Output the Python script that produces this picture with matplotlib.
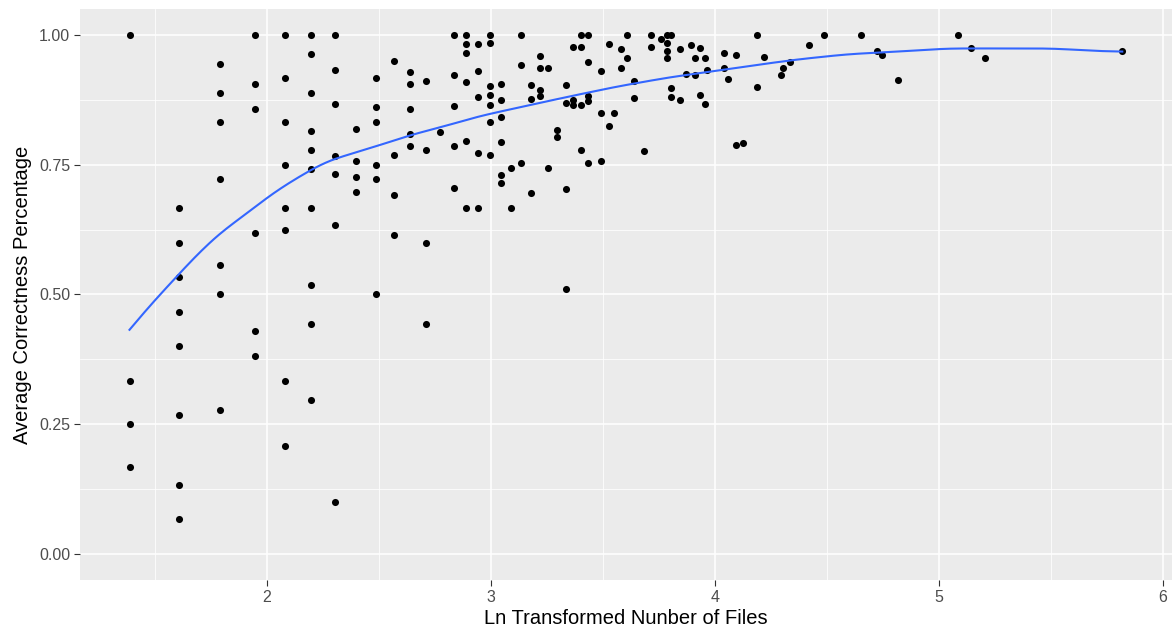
import matplotlib
matplotlib.use("Agg")
import matplotlib.pyplot as plt
import numpy as np

# ln(number of files) and average correctness
ln_files = (
    [1.386] * 4 + [1.609] * 8 + [1.792] * 7 + [1.946] * 6 + [2.079] * 8
    + [2.197] * 10 + [2.303] * 7 + [2.398] * 4 + [2.485] * 6 + [2.565] * 4
    + [2.639] * 5 + [2.708] * 4 + [2.773] * 1 + [2.833] * 5 + [2.890] * 6
    + [2.944] * 5 + [2.996] * 7 + [3.045] * 6 + [3.091] * 2 + [3.135] * 3
    + [3.178] * 3 + [3.219] * 4 + [3.254] * 2 + [3.293] * 2 + [3.333] * 4
    + [3.366] * 3 + [3.400] * 4 + [3.433] * 5 + [3.492] * 3 + [3.527] * 2
    + [3.551] * 1 + [3.579] * 2 + [3.607] * 2 + [3.638] * 2 + [3.684] * 1
    + [3.713] * 2 + [3.760] * 1 + [3.787] * 4 + [3.805] * 3 + [3.845] * 2
    + [3.871] * 1 + [3.893] * 1 + [3.912] * 2 + [3.933] * 2 + [3.954] * 2
    + [3.966] * 1 + [4.040] * 2 + [4.058] * 1 + [4.092] * 2 + [4.126] * 1
    + [4.186] * 2 + [4.219] * 1 + [4.293] * 1 + [4.305] * 1 + [4.333] * 1
    + [4.420] * 1 + [4.485] * 1 + [4.653] * 1 + [4.725] * 1 + [4.747] * 1
    + [4.818] * 1 + [5.085] * 1 + [5.144] * 1 + [5.205] * 1 + [5.818] * 1
)
avg_correct = [
    1.0, 0.333, 0.25, 0.167,
    0.667, 0.6, 0.533, 0.467, 0.4, 0.267, 0.133, 0.067,
    0.944, 0.889, 0.833, 0.722, 0.556, 0.5, 0.278,
    1.0, 0.905, 0.857, 0.619, 0.429, 0.381,
    1.0, 0.917, 0.833, 0.75, 0.667, 0.625, 0.333, 0.208,
    1.0, 0.963, 0.889, 0.815, 0.778, 0.741, 0.667, 0.519, 0.444, 0.296,
    1.0, 0.933, 0.867, 0.767, 0.733, 0.633, 0.1,
    0.818, 0.758, 0.727, 0.697,
    0.917, 0.861, 0.833, 0.75, 0.722, 0.5,
    0.949, 0.769, 0.692, 0.615,
    0.929, 0.905, 0.857, 0.81, 0.786,
    0.911, 0.778, 0.6, 0.444,
    0.813,
    1.0, 0.922, 0.864, 0.786, 0.705,
    1.0, 0.982, 0.965, 0.909, 0.796, 0.667,
    0.982, 0.93, 0.88, 0.773, 0.667,
    1.0, 0.985, 0.902, 0.884, 0.866, 0.833, 0.768,
    0.905, 0.874, 0.841, 0.793, 0.731, 0.715,
    0.743, 0.667,
    1.0, 0.942, 0.753,
    0.904, 0.877, 0.695,
    0.96, 0.936, 0.894, 0.883,
    0.936, 0.743,
    0.816, 0.803,
    0.904, 0.869, 0.703, 0.511,
    0.977, 0.874, 0.865,
    1.0, 0.977, 0.865, 0.778,
    1.0, 0.947, 0.883, 0.872, 0.753,
    0.93, 0.85, 0.758,
    0.982, 0.824,
    0.85,
    0.972, 0.937,
    1.0, 0.955,
    0.912, 0.879,
    0.776,
    1.0, 0.977,
    0.992,
    1.0, 0.985, 0.969, 0.955,
    1.0, 0.897, 0.881,
    0.972, 0.874,
    0.924,
    0.98,
    0.955, 0.923,
    0.974, 0.884,
    0.955, 0.867,
    0.932,
    0.966, 0.937,
    0.915,
    0.962, 0.788,
    0.791,
    1.0, 0.899,
    0.957,
    0.922,
    0.936,
    0.947,
    0.98,
    1.0,
    1.0,
    0.969,
    0.962,
    0.914,
    1.0,
    0.974,
    0.955,
    0.969,
]

# loess fit (geom_smooth)
smooth_x = [1.386, 1.483, 1.573, 1.647, 1.781, 1.900, 2.019, 2.064, 2.198, 2.287,
            2.376, 2.451, 2.525, 2.629, 2.808, 2.942, 3.121, 3.344, 3.567, 3.700,
            3.790, 3.924, 4.147, 4.371, 4.594, 4.817, 5.040, 5.500, 5.589, 5.701,
            5.818]
smooth_y = [0.432, 0.482, 0.523, 0.559, 0.616, 0.653, 0.693, 0.706, 0.741, 0.761,
            0.770, 0.782, 0.790, 0.806, 0.826, 0.843, 0.860, 0.881, 0.901, 0.911,
            0.918, 0.926, 0.940, 0.953, 0.963, 0.968, 0.974, 0.974, 0.972, 0.969,
            0.968]

# round off the corners between the read points a little
xs = np.linspace(smooth_x[0], smooth_x[-1], 400)
ys = np.interp(xs, smooth_x, smooth_y)
k = np.exp(-0.5 * (np.arange(-12, 13) / 5.0) ** 2)
k /= k.sum()
pad = np.concatenate([2 * ys[0] - ys[12:0:-1], ys, 2 * ys[-1] - ys[-2:-14:-1]])
ys = np.convolve(pad, k, mode="valid")

fig = plt.figure(figsize=(11.74, 6.32), dpi=100)
ax = fig.add_axes([80 / 1174, 1 - 580 / 632, 1092 / 1174, 571 / 632])
ax.set_facecolor("#EBEBEB")

ax.scatter(ln_files, avg_correct, s=26, color="black", linewidths=0, zorder=3)
ax.plot(xs, ys, color="#3366FF", lw=1.5, zorder=4)

ax.set_xlim(1.165, 6.04)
ax.set_ylim(-0.05, 1.05)
ax.set_xticks([2, 3, 4, 5, 6])
ax.set_xticks([1.5, 2.5, 3.5, 4.5, 5.5], minor=True)
ax.set_yticks([0, 0.25, 0.5, 0.75, 1.0])
ax.set_yticklabels(["0.00", "0.25", "0.50", "0.75", "1.00"])
ax.set_yticks([0.125, 0.375, 0.625, 0.875], minor=True)
ax.grid(which="major", color="white", lw=1.1)
ax.grid(which="minor", color="white", lw=0.55)
ax.set_axisbelow(True)
for s in ax.spines.values():
    s.set_visible(False)
ax.tick_params(which="major", length=4, width=0.8, color="#333333",
               labelcolor="#4D4D4D", labelsize=11.5, pad=3)
ax.tick_params(which="minor", length=0)

for lab in ax.get_xticklabels() + ax.get_yticklabels():
    lab.set_family("Liberation Sans")

ax.set_xlabel("Ln Transformed Nunber of Files", fontsize=14.5, family="Liberation Sans", labelpad=3)
ax.set_ylabel("Average Correctness Percentage", fontsize=14.5, family="Liberation Sans", labelpad=5)

fig.savefig("out.png", dpi=100)
